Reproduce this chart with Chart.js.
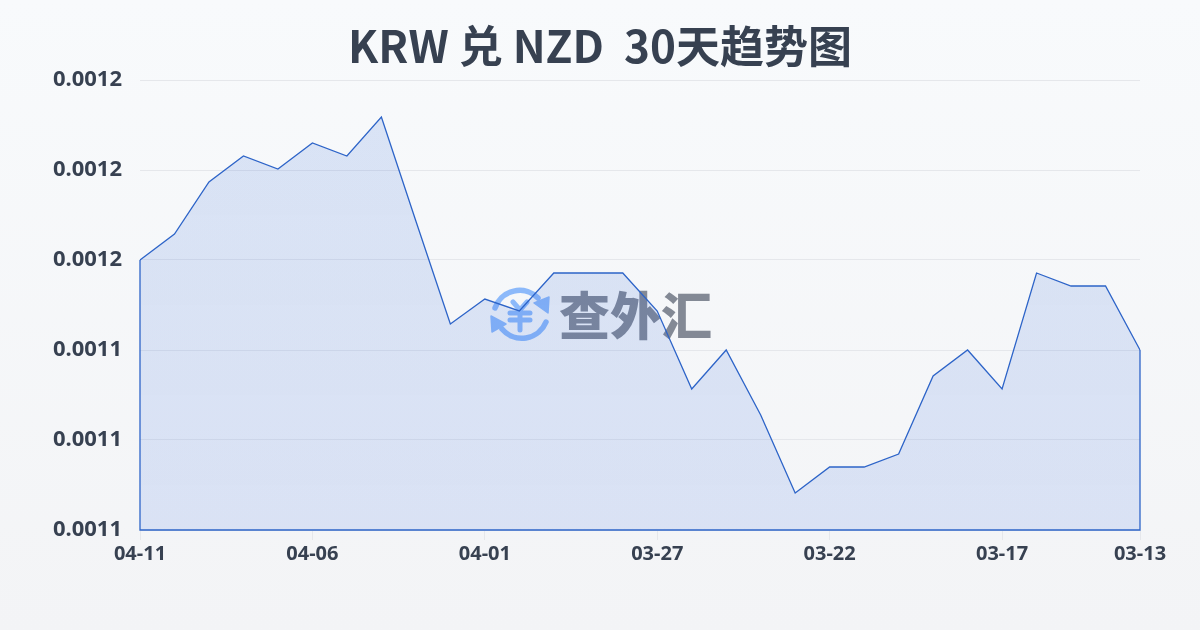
<!DOCTYPE html>
<html>
<head>
<meta charset="utf-8">
<style>
html, body { margin: 0; padding: 0; }
body { width: 1200px; height: 630px; overflow: hidden; position: relative;
       background: linear-gradient(180deg, #f8fafc, #f3f4f6); }
#chart { position: absolute; left: 0; top: 0; }
.mark { position: absolute; left: 488px; top: 283px; width: 240px; height: 64px; }
.mark svg { position: absolute; left: 0; top: 0; }
.mark span { position: absolute; left: 71px; top: -2px; font: 900 51px/64px "Noto Sans CJK SC"; color: #6b7280; opacity: .82; white-space: nowrap; }
</style>
</head>
<body>
<div class="mark">
  <svg width="64" height="64" viewBox="0 0 64 64" fill="none" stroke="#8cb9fa" stroke-width="5.5" stroke-linecap="round" stroke-linejoin="round">
    <path d="M7 25 A26 26 0 0 1 50 15"/>
    <path d="M58 39 A26 26 0 0 1 14 46"/>
    <path d="M46 20 L61 14 L60 30 Z" fill="#8cb9fa" stroke-width="1.5"/>
    <path d="M3 33 L4 49 L18 41 Z" fill="#8cb9fa" stroke-width="1.5"/>
    <path d="M25 19 L32 27 L39 19 M22 30 H42 M22 37 H42 M32 27 V47" stroke-width="5"/>
  </svg>
  <span>查外汇</span>
</div>
<canvas id="chart" width="1200" height="630"></canvas>
<script src="https://cdn.jsdelivr.net/npm/chart.js@4"></script>
<script>
const dates = ["04-11","04-10","04-09","04-08","04-07","04-06","04-05","04-04","04-03","04-02",
               "04-01","03-31","03-30","03-29","03-28","03-27","03-26","03-25","03-24","03-23",
               "03-22","03-21","03-20","03-19","03-18","03-17","03-16","03-15","03-14","03-13"];
const rates = [0.00116, 0.00116578, 0.00117733, 0.00118311, 0.00118022, 0.001186, 0.00118311, 0.00119178, 0.00116867, 0.00114578,
               0.00115133, 0.00114867, 0.00115711, 0.00115711, 0.00115711, 0.00114867, 0.00113133, 0.00114, 0.00112556, 0.00110822,
               0.001114, 0.001114, 0.00111689, 0.00113422, 0.00114, 0.00113133, 0.00115711, 0.00115422, 0.00115422, 0.00114];
const shownDates = ["04-11","04-06","04-01","03-27","03-22","03-17","03-13"];
const yMin = 0.0011, yMax = 0.0012, yStep = 0.00002;

const textColor = "#374151";
const lineColor = "rgb(45,100,200)";

// the reference strokes the whole area shape, not only the top edge
const outline = {
    id: "outline",
    afterDatasetsDraw(chart) {
        const pts = chart.getDatasetMeta(0).data;
        const bottom = chart.chartArea.bottom;
        const ctx = chart.ctx;
        ctx.save();
        ctx.strokeStyle = lineColor;
        ctx.lineWidth = 1.3;
        ctx.beginPath();
        ctx.moveTo(pts[0].x, pts[0].y);
        ctx.lineTo(pts[0].x, bottom);
        ctx.lineTo(pts[pts.length - 1].x, bottom);
        ctx.lineTo(pts[pts.length - 1].x, pts[pts.length - 1].y);
        ctx.stroke();
        ctx.restore();
    }
};

const areaFill = (c) => {
    const area = c.chart.chartArea;
    if (!area) return "rgba(45,100,215,0.15)";
    const g = c.chart.ctx.createLinearGradient(0, area.top, 0, area.bottom);
    g.addColorStop(0, "rgba(45,100,215,0.15)");
    g.addColorStop(1, "rgba(45,100,225,0.13)");
    return g;
};

new Chart(document.getElementById("chart"), {
    type: "line",
    data: {
        labels: dates,
        datasets: [{
            data: rates,
            borderColor: lineColor,
            borderWidth: 1.3,
            backgroundColor: areaFill,
            fill: "start",
            tension: 0,
            pointRadius: 0,
        }],
    },
    options: {
        responsive: false,
        animation: false,
        layout: { padding: { top: 20, right: 0, left: 0, bottom: 0 } },
        plugins: {
            legend: { display: false },
            tooltip: { enabled: false },
            title: {
                display: true,
                text: "KRW 兑 NZD  30天趋势图",
                color: textColor,
                font: { family: "'Noto Sans CJK SC'", size: 44, weight: "bold" },
                padding: { top: 0, bottom: 7.2 },
            },
        },
        scales: {
            x: {
                afterBuildTicks: (scale) => {
                    scale.ticks = scale.ticks.filter(t => shownDates.includes(dates[t.value]));
                },
                afterFit: (scale) => { scale.height = 100; },
                border: { display: false },
                grid: { drawOnChartArea: false, tickLength: 10, tickColor: "#e5e7eb" },
                ticks: {
                    autoSkip: false,
                    maxRotation: 0,
                    padding: 2,
                    color: textColor,
                    font: { family: "'Noto Sans'", size: 20, weight: "bold" },
                },
            },
            y: {
                min: yMin,
                max: yMax,
                afterFit: (scale) => { scale.width = 140; },
                border: { display: false },
                grid: { color: "#e5e7eb", drawTicks: false },
                ticks: {
                    stepSize: yStep,
                    padding: 18,
                    color: textColor,
                    font: { family: "'Noto Sans'", size: 22, weight: "bold" },
                    callback: (v) => v.toFixed(4),
                },
            },
            // empty axis: only keeps the right margin so the title stays centred on the page
            margin: {
                position: "right",
                afterFit: (scale) => { scale.width = 60; },
                border: { display: false },
                grid: { display: false },
                ticks: { display: false },
            },
        },
    },
    plugins: [outline],
});
</script>
</body>
</html>
